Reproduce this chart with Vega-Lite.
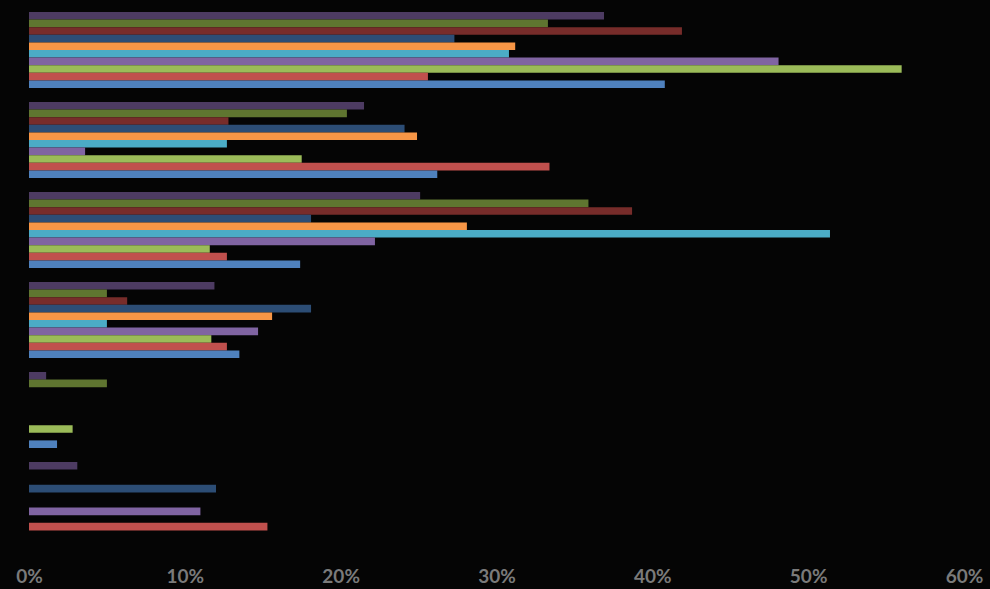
{
  "$schema": "https://vega.github.io/schema/vega-lite/v6.json",
  "width": 935,
  "height": 540,
  "autosize": {"type": "none"},
  "padding": {"left": 29, "top": 5, "right": 26, "bottom": 44},
  "background": "#050505",
  "config": {"view": {"stroke": null}},
  "data": {
    "values": [
      {"g": "G1", "s": "S10", "v": 36.9},
      {"g": "G1", "s": "S9", "v": 33.3},
      {"g": "G1", "s": "S8", "v": 41.9},
      {"g": "G1", "s": "S7", "v": 27.3},
      {"g": "G1", "s": "S6", "v": 31.2},
      {"g": "G1", "s": "S5", "v": 30.8},
      {"g": "G1", "s": "S4", "v": 48.1},
      {"g": "G1", "s": "S3", "v": 56.0},
      {"g": "G1", "s": "S2", "v": 25.6},
      {"g": "G1", "s": "S1", "v": 40.8},
      {"g": "G2", "s": "S10", "v": 21.5},
      {"g": "G2", "s": "S9", "v": 20.4},
      {"g": "G2", "s": "S8", "v": 12.8},
      {"g": "G2", "s": "S7", "v": 24.1},
      {"g": "G2", "s": "S6", "v": 24.9},
      {"g": "G2", "s": "S5", "v": 12.7},
      {"g": "G2", "s": "S4", "v": 3.6},
      {"g": "G2", "s": "S3", "v": 17.5},
      {"g": "G2", "s": "S2", "v": 33.4},
      {"g": "G2", "s": "S1", "v": 26.2},
      {"g": "G3", "s": "S10", "v": 25.1},
      {"g": "G3", "s": "S9", "v": 35.9},
      {"g": "G3", "s": "S8", "v": 38.7},
      {"g": "G3", "s": "S7", "v": 18.1},
      {"g": "G3", "s": "S6", "v": 28.1},
      {"g": "G3", "s": "S5", "v": 51.4},
      {"g": "G3", "s": "S4", "v": 22.2},
      {"g": "G3", "s": "S3", "v": 11.6},
      {"g": "G3", "s": "S2", "v": 12.7},
      {"g": "G3", "s": "S1", "v": 17.4},
      {"g": "G4", "s": "S10", "v": 11.9},
      {"g": "G4", "s": "S9", "v": 5.0},
      {"g": "G4", "s": "S8", "v": 6.3},
      {"g": "G4", "s": "S7", "v": 18.1},
      {"g": "G4", "s": "S6", "v": 15.6},
      {"g": "G4", "s": "S5", "v": 5.0},
      {"g": "G4", "s": "S4", "v": 14.7},
      {"g": "G4", "s": "S3", "v": 11.7},
      {"g": "G4", "s": "S2", "v": 12.7},
      {"g": "G4", "s": "S1", "v": 13.5},
      {"g": "G5", "s": "S10", "v": 1.1},
      {"g": "G5", "s": "S9", "v": 5.0},
      {"g": "G5", "s": "S3", "v": 2.8},
      {"g": "G5", "s": "S1", "v": 1.8},
      {"g": "G6", "s": "S10", "v": 3.1},
      {"g": "G6", "s": "S7", "v": 12.0},
      {"g": "G6", "s": "S4", "v": 11.0},
      {"g": "G6", "s": "S2", "v": 15.3}
    ]
  },
  "mark": {"type": "bar", "orient": "horizontal"},
  "encoding": {
    "y": {
      "field": "g",
      "type": "nominal",
      "scale": {"domain": ["G1", "G2", "G3", "G4", "G5", "G6"], "paddingInner": 0.1556, "paddingOuter": 0.0778},
      "axis": null
    },
    "yOffset": {
      "field": "s",
      "type": "nominal",
      "scale": {"domain": ["S10", "S9", "S8", "S7", "S6", "S5", "S4", "S3", "S2", "S1"], "paddingInner": 0, "paddingOuter": 0}
    },
    "x": {
      "field": "v",
      "type": "quantitative",
      "scale": {"domain": [0, 60], "nice": false},
      "axis": {
        "values": [0, 10, 20, 30, 40, 50, 60],
        "labelExpr": "datum.value + '%'",
        "grid": false,
        "domain": false,
        "ticks": false,
        "labelPadding": 22,
        "labelFont": "Lato",
        "labelFontSize": 19,
        "labelFontWeight": "bold",
        "labelColor": "#7a7a7a",
        "labelFlush": false,
        "labelOverlap": false,
        "title": null
      }
    },
    "color": {
      "field": "s",
      "type": "nominal",
      "scale": {
        "domain": ["S1", "S2", "S3", "S4", "S5", "S6", "S7", "S8", "S9", "S10"],
        "range": ["#4F81BD", "#C0504D", "#9BBB59", "#8064A2", "#4BACC6", "#F79646", "#2C4D75", "#772C2A", "#5F7530", "#4D3B62"]
      },
      "legend": null
    }
  }
}
